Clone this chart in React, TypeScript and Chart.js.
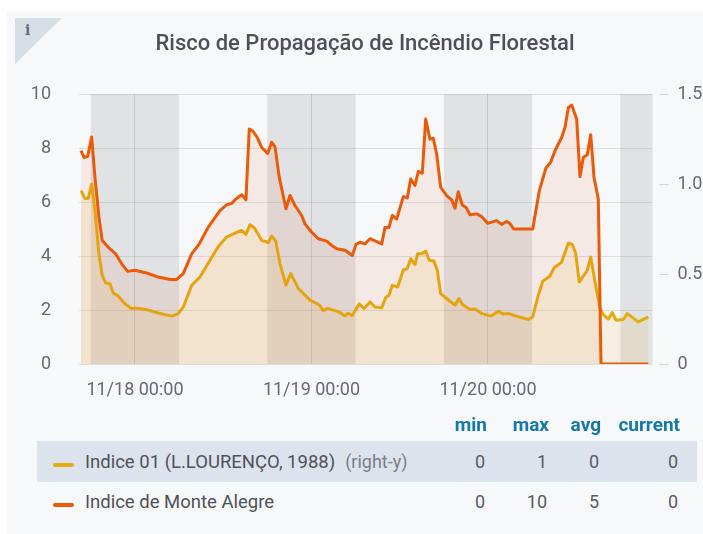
import React, { useEffect, useRef } from "react";
import { Chart, registerables } from "chart.js";

Chart.register(...registerables);

const TITLE = "Risco de Propagação de Incêndio Florestal";

// hours relative to 11/18 00:00
const orangeHours = [-7.34,-6.93,-6.43,-5.89,-5.44,-4.9,-4.45,-3.63,-2.62,-1.81,-0.99,0,1.59,3.17,4.76,5.67,6.57,7.71,8.7,9.97,11.56,12.47,13.15,13.73,14.51,15.09,15.54,16.09,16.63,17.23,18.04,18.59,19.04,19.62,20.53,21.08,21.76,22.67,23.12,24.03,24.93,26.07,26.75,27.43,28.56,29.55,30.05,30.6,31.28,31.96,33.55,34,34.54,34.99,35.59,36.49,37.03,37.49,38.07,38.52,39.07,39.53,40.11,40.56,41.02,41.57,42.38,43.06,43.51,43.96,44.51,45.01,45.55,46.46,47.14,47.95,49.18,49.86,50.54,50.99,51.5,54.08,54.98,55.89,56.53,57.11,58.02,58.47,58.92,59.38,60.06,60.51,60.96,61.5,61.97,62.42,63,63.37,69.8];
const orangeValues = [7.9,7.65,7.69,8.41,6.91,5.44,4.57,4.32,4.08,3.71,3.43,3.47,3.37,3.22,3.13,3.13,3.35,4.08,4.43,5.07,5.68,5.9,5.95,6.11,6.27,6.08,8.7,8.61,8.39,8.02,7.8,8.21,8.05,6.91,5.75,6.24,5.87,5.5,5.19,4.88,4.64,4.55,4.39,4.27,4.21,4.02,4.43,4.51,4.45,4.64,4.45,5.06,5.06,5.5,5.37,6.2,6.15,6.85,6.61,7.13,7.07,9.07,8.33,8.36,7.78,6.54,6.24,6.08,5.77,6.38,5.89,5.8,5.53,5.56,5.46,5.21,5.31,5.17,5.28,5.2,5,5,6.42,7.27,7.47,7.9,8.39,8.76,9.49,9.59,9.07,6.94,7.65,7.75,8.49,6.91,6.11,0,0];

const yellowHours = [-7.34,-6.8,-6.35,-5.89,-5.44,-4.9,-4.45,-3.98,-3.4,-2.95,-2.27,-1.36,-0.45,0,1.59,3.17,4.99,5.89,6.57,7.71,8.84,10.2,11.33,12.47,13.6,14.51,15.09,15.64,16.22,17.23,18.13,18.59,19.13,19.72,20.53,21.17,22.21,23.8,25.06,25.6,26.15,27.64,28.56,29,29.55,30.5,31.14,31.96,32.63,33.55,34.09,34.54,34.99,35.72,36.49,37.03,37.49,38.07,38.44,38.99,39.53,40.02,40.66,41.11,41.57,42.38,43.51,44.05,44.51,45.55,46.23,47.14,48.41,49.4,50.08,50.76,51.67,53.48,54.08,54.84,55.44,56.43,56.97,58.02,58.92,59.46,59.92,60.41,61.5,61.97,62.55,63.23,63.68,64.36,64.9,65.41,66.4,66.94,68.43,69.8];
const yellowValues = [0.963,0.92,0.92,1,0.852,0.612,0.492,0.45,0.446,0.394,0.377,0.335,0.307,0.311,0.302,0.283,0.266,0.28,0.317,0.437,0.483,0.576,0.653,0.705,0.727,0.742,0.72,0.774,0.757,0.687,0.675,0.711,0.684,0.558,0.438,0.503,0.42,0.355,0.328,0.296,0.309,0.291,0.268,0.282,0.269,0.334,0.308,0.345,0.317,0.312,0.369,0.382,0.437,0.428,0.524,0.53,0.585,0.552,0.613,0.613,0.627,0.576,0.572,0.52,0.391,0.364,0.327,0.364,0.332,0.303,0.305,0.281,0.266,0.293,0.277,0.281,0.268,0.247,0.262,0.382,0.459,0.489,0.533,0.566,0.671,0.664,0.615,0.456,0.52,0.594,0.456,0.308,0.275,0.249,0.286,0.243,0.247,0.28,0.234,0.262];

const xTicks = [0, 24, 48];
const xTickLabels = ["11/18 00:00", "11/19 00:00", "11/20 00:00"];
const leftTicks = [0, 2, 4, 6, 8, 10];
const rightTicks = [0, 0.5, 1, 1.5];
const rightTickLabels = ["0", "0.5", "1.0", "1.5"];
const nightStart = [-6, 18, 42, 66];
const nightEnd = [6, 30, 54, 72];

const legendHeaders = ["min", "max", "avg", "current"];
const legendNames = ["Indice 01 (L.LOURENÇO, 1988)", "Indice de Monte Alegre"];
const legendSuffix = ["(right-y)", ""];
const legendColors = ["#E5AC0E", "#EA5A07"];
const legendStats = [["0", "1", "0", "0"], ["0", "10", "5", "0"]];
const colRight = [487, 549, 601, 680];

const AXIS = "#646a78";
const FF = "Roboto, sans-serif";

const nightBands = {
  id: "nightBands",
  beforeDatasetsDraw(chart: any) {
    const { ctx, chartArea: a, scales } = chart;
    ctx.save();
    ctx.fillStyle = "rgba(80,80,80,0.13)";
    nightStart.forEach((s, i) => {
      const x0 = Math.max(scales.x.getPixelForValue(s), a.left);
      const x1 = Math.min(scales.x.getPixelForValue(nightEnd[i]), a.right);
      ctx.fillRect(x0, a.top, x1 - x0, a.bottom - a.top);
    });
    ctx.restore();
  },
};

export default function App() {
  const ref = useRef<HTMLCanvasElement>(null);
  useEffect(() => {
    const chart = new Chart(ref.current!, {
      type: "line",
      plugins: [nightBands],
      data: {
        datasets: [
          {
            label: legendNames[1],
            data: orangeHours.map((x, i) => ({ x, y: orangeValues[i] })),
            yAxisID: "y",
            borderColor: "#EA5A07",
            backgroundColor: "rgba(235,90,20,0.09)",
            borderWidth: 3,
            borderJoinStyle: "round",
            fill: "origin",
            pointRadius: 0,
            tension: 0,
          },
          {
            label: legendNames[0],
            data: yellowHours.map((x, i) => ({ x, y: yellowValues[i] })),
            yAxisID: "y1",
            borderColor: "#E5AC0E",
            backgroundColor: "rgba(229,172,14,0.11)",
            borderWidth: 3,
            borderJoinStyle: "round",
            fill: "origin",
            pointRadius: 0,
            tension: 0,
          },
        ],
      },
      options: {
        animation: false,
        responsive: false,
        layout: { padding: 0 },
        plugins: {
          legend: { display: false },
          tooltip: { enabled: false },
          title: {
            display: true,
            text: TITLE,
            color: "#4e5059",
            font: { family: FF, size: 22, weight: "500" },
            padding: { top: 31, bottom: 36.6 },
          },
        },
        scales: {
          x: {
            type: "linear",
            min: -7.61,
            max: 70.37,
            afterBuildTicks: (s: any) => {
              s.ticks = xTicks.map((value) => ({ value }));
            },
            afterFit: (s: any) => {
              s.height = 56;
            },
            border: { display: false },
            grid: { color: "rgba(0,0,0,0.12)", drawTicks: false },
            ticks: {
              color: AXIS,
              font: { family: FF, size: 18 },
              padding: 16,
              autoSkip: false,
              maxRotation: 0,
              callback: (v: any) => xTickLabels[xTicks.indexOf(v)],
            },
          },
          y: {
            position: "left",
            min: 0,
            max: 10,
            afterBuildTicks: (s: any) => {
              s.ticks = leftTicks.map((value) => ({ value }));
            },
            afterFit: (s: any) => {
              s.width = 52;
            },
            border: { display: false },
            grid: { color: "rgba(0,0,0,0.1)", drawTicks: false },
            ticks: { color: AXIS, font: { family: FF, size: 18 }, padding: 28 },
          },
          y1: {
            position: "right",
            min: 0,
            max: 1.5,
            afterBuildTicks: (s: any) => {
              s.ticks = rightTicks.map((value) => ({ value }));
            },
            afterFit: (s: any) => {
              s.width = 50.5;
            },
            border: { display: false },
            grid: {
              drawOnChartArea: false,
              tickLength: 16,
              tickColor: "rgba(0,0,0,0.15)",
              tickBorderDash: [0, 6.5, 9.5, 100],
            },
            ticks: {
              color: AXIS,
              font: { family: FF, size: 18 },
              padding: 9,
              callback: (v: any) => rightTickLabels[rightTicks.indexOf(v)],
            },
          },
        },
      },
    } as any);
    return () => chart.destroy();
  }, []);

  const abs = (o: React.CSSProperties): React.CSSProperties => ({ position: "absolute", whiteSpace: "nowrap", ...o });
  return (
    <div style={{ position: "absolute", left: 0, top: 0, width: 703, height: 534, overflow: "hidden", background: "#fff", fontFamily: FF, filter: "blur(0.5px)" }}>
      <div style={abs({ left: 7, top: 11, width: 696, height: 523, background: "#f7f8fa" })} />
      <div style={abs({ left: 15, top: 18, width: 47, height: 46, background: "#d8dee6", clipPath: "polygon(0 0,100% 0,0 100%)" })} />
      <div style={abs({ left: 25, top: 21, fontFamily: "'DejaVu Serif', serif", fontWeight: 700, fontSize: 14, lineHeight: "18px", color: "#646a78" })}>i</div>
      <canvas ref={ref} width={676} height={420} style={{ position: "absolute", left: 27, top: 0, width: 676, height: 420 }} />
      {legendHeaders.map((h, c) => (
        <div key={h} style={abs({ right: 703 - colRight[c], top: 415, lineHeight: "20px", fontSize: 19, fontWeight: 700, color: "#1479a8" })}>{h}</div>
      ))}
      <div style={abs({ left: 37, top: 441, width: 660, height: 41, background: "#dde3ed" })} />
      {legendNames.map((n, r) => (
        <React.Fragment key={n}>
          <div style={abs({ left: 53, top: 463 + r * 40, width: 21, height: 4, borderRadius: 2, background: legendColors[r] })} />
          <div style={abs({ left: 85, top: 451 + r * 40, lineHeight: "22px", fontSize: 18.5, color: "#4f5159" })}>
            {n}
            {legendSuffix[r] && <span style={{ marginLeft: 10, fontSize: 18, color: "#7b7e87" }}>{legendSuffix[r]}</span>}
          </div>
          {legendStats[r].map((v, c) => (
            <div key={c} style={abs({ right: 703 - colRight[c] + 2, top: 451 + r * 40, lineHeight: "22px", fontSize: 18, color: "#5a5c64" })}>{v}</div>
          ))}
        </React.Fragment>
      ))}
    </div>
  );
}
